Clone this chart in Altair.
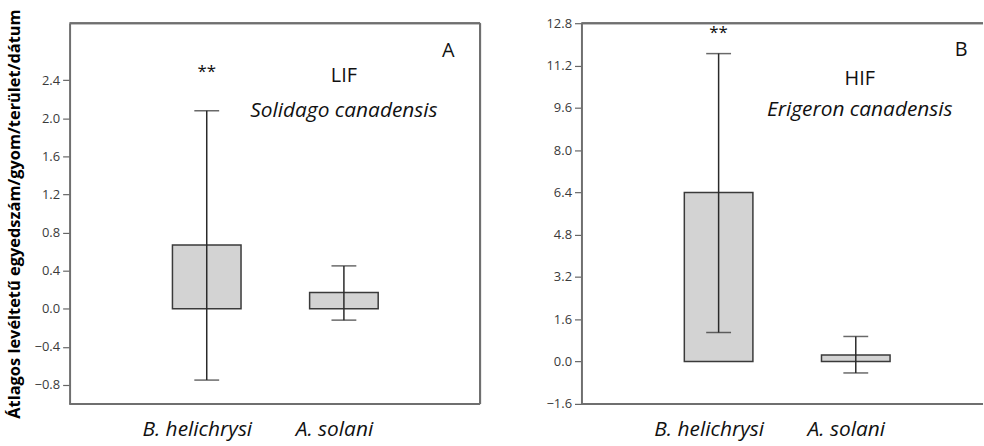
import altair as alt
import pandas as pd

pathogens = ["B. helichrysi", "A. solani"]

lif_mean = [0.67, 0.17]
lif_hi = [2.08, 0.45]
lif_lo = [-0.75, -0.12]

hif_mean = [6.4, 0.25]
hif_hi = [11.65, 0.95]
hif_lo = [1.1, -0.43]

lif_ticks = [-0.8, -0.4, 0.0, 0.4, 0.8, 1.2, 1.6, 2.0, 2.4]
hif_ticks = [-1.6, 0.0, 1.6, 3.2, 4.8, 6.4, 8.0, 9.6, 11.2, 12.8]

FRAME = "#6f6f6f"
FONT = "Open Sans"


def panel(mean, hi, lo, domain, ticks, W, H, letter, letter_y, code, code_y,
          species, species_y, star_y, code_dx, letter_dx, right_border, ytitle):
    df = pd.DataFrame({"p": pathogens, "m": mean, "hi": hi, "lo": lo, "z": [0, 0]})
    xenc = alt.X("p:N", sort=pathogens,
                 scale=alt.Scale(type="point", range=[138, 276], padding=0),
                 axis=alt.Axis(title=None, labelAngle=0, ticks=False, domain=False,
                               labelFontSize=21, labelFontStyle="italic",
                               labelColor="#111111", labelPadding=15,
                               labelOffset=-10, labelFont=FONT))
    axis_kw = dict(values=ticks, format=".1f", grid=False,
                   labelFontSize=13, labelColor="#3a3a3a", labelFont=FONT,
                   tickColor="#666666", tickSize=7, tickWidth=1.2,
                   domainColor=FRAME, domainWidth=2, labelPadding=3)
    if ytitle:
        axis_kw.update(title=ytitle, titleFontSize=16.5, titleFontWeight="bold",
                       titleColor="#000000", titleFont=FONT, titlePadding=12)
    yaxis = alt.Axis(**axis_kw)
    yscale = alt.Scale(domain=domain, nice=False, zero=False)
    base = alt.Chart(df)
    bars = base.mark_bar(size=69, color="#d3d3d3", stroke="#3a3a3a",
                         strokeWidth=1.5).encode(
        x=xenc,
        y=alt.Y("m:Q", scale=yscale, axis=yaxis, title=ytitle if ytitle else None),
        y2="z:Q")
    err = base.mark_rule(color="#2a2a2a", strokeWidth=1.5).encode(
        x=alt.X("p:N", sort=pathogens), y="lo:Q", y2="hi:Q")
    cap_hi = base.mark_tick(color="#2a2a2a", thickness=1.5, size=25).encode(
        x=alt.X("p:N", sort=pathogens), y="hi:Q")
    cap_lo = base.mark_tick(color="#2a2a2a", thickness=1.5, size=25).encode(
        x=alt.X("p:N", sort=pathogens), y="lo:Q")

    ann = pd.DataFrame({"p": [pathogens[0]], "v": [star_y]})
    stars = alt.Chart(ann).mark_text(text="**", fontSize=17, font=FONT,
                                     color="#111111").encode(
        x=alt.X("p:N", sort=pathogens), y="v:Q")
    cd = pd.DataFrame({"p": [pathogens[1]], "v": [code_y]})
    code_t = alt.Chart(cd).mark_text(text=code, fontSize=20, font=FONT,
                                     dx=code_dx, color="#111111").encode(
        x=alt.X("p:N", sort=pathogens), y="v:Q")
    sp = pd.DataFrame({"p": [pathogens[1]], "v": [species_y]})
    sp_t = alt.Chart(sp).mark_text(text=species, fontSize=21, font=FONT,
                                   fontStyle="italic", dx=code_dx,
                                   color="#111111").encode(
        x=alt.X("p:N", sort=pathogens), y="v:Q")
    lt = pd.DataFrame({"p": [pathogens[1]], "v": [letter_y]})
    let_t = alt.Chart(lt).mark_text(text=letter, fontSize=20, font=FONT,
                                    dx=letter_dx, color="#111111").encode(
        x=alt.X("p:N", sort=pathogens), y="v:Q")

    top = alt.Chart(df).mark_rule(color=FRAME, strokeWidth=2).encode(
        x=alt.value(0), x2=alt.value(W), y=alt.value(0))
    bottom = alt.Chart(df).mark_rule(color=FRAME, strokeWidth=2).encode(
        x=alt.value(0), x2=alt.value(W), y=alt.value(H))
    layers = [bars, err, cap_hi, cap_lo, stars, code_t, sp_t, let_t, top, bottom]
    if right_border:
        right = alt.Chart(df).mark_rule(color=FRAME, strokeWidth=2).encode(
            x=alt.value(W), y=alt.value(0), y2=alt.value(H))
        layers.append(right)
    return alt.layer(*layers).properties(width=W, height=H)


pA = panel(lif_mean, lif_hi, lif_lo, [-1.0, 3.0], lif_ticks, 413, 383,
           "A", 2.71, "LIF", 2.44, "Solidago canadensis", 2.08, 2.49,
           0, 105, True, "Átlagos levéltetű egyedszám/gyom/terület/dátum")
pB = panel(hif_mean, hif_hi, hif_lo, [-1.6, 12.8], hif_ticks, 404, 383,
           "B", 11.8, "HIF", 10.7, "Erigeron canadensis", 9.53, 12.41,
           4, 106, False, None)

chart = alt.hconcat(pA, pB, spacing=65).properties(
    padding={"left": 6, "top": 7, "right": 0, "bottom": 0},
    background="white",
).configure_view(stroke=None)

chart.save("out.html", embed_options={"renderer": "svg", "actions": False})
